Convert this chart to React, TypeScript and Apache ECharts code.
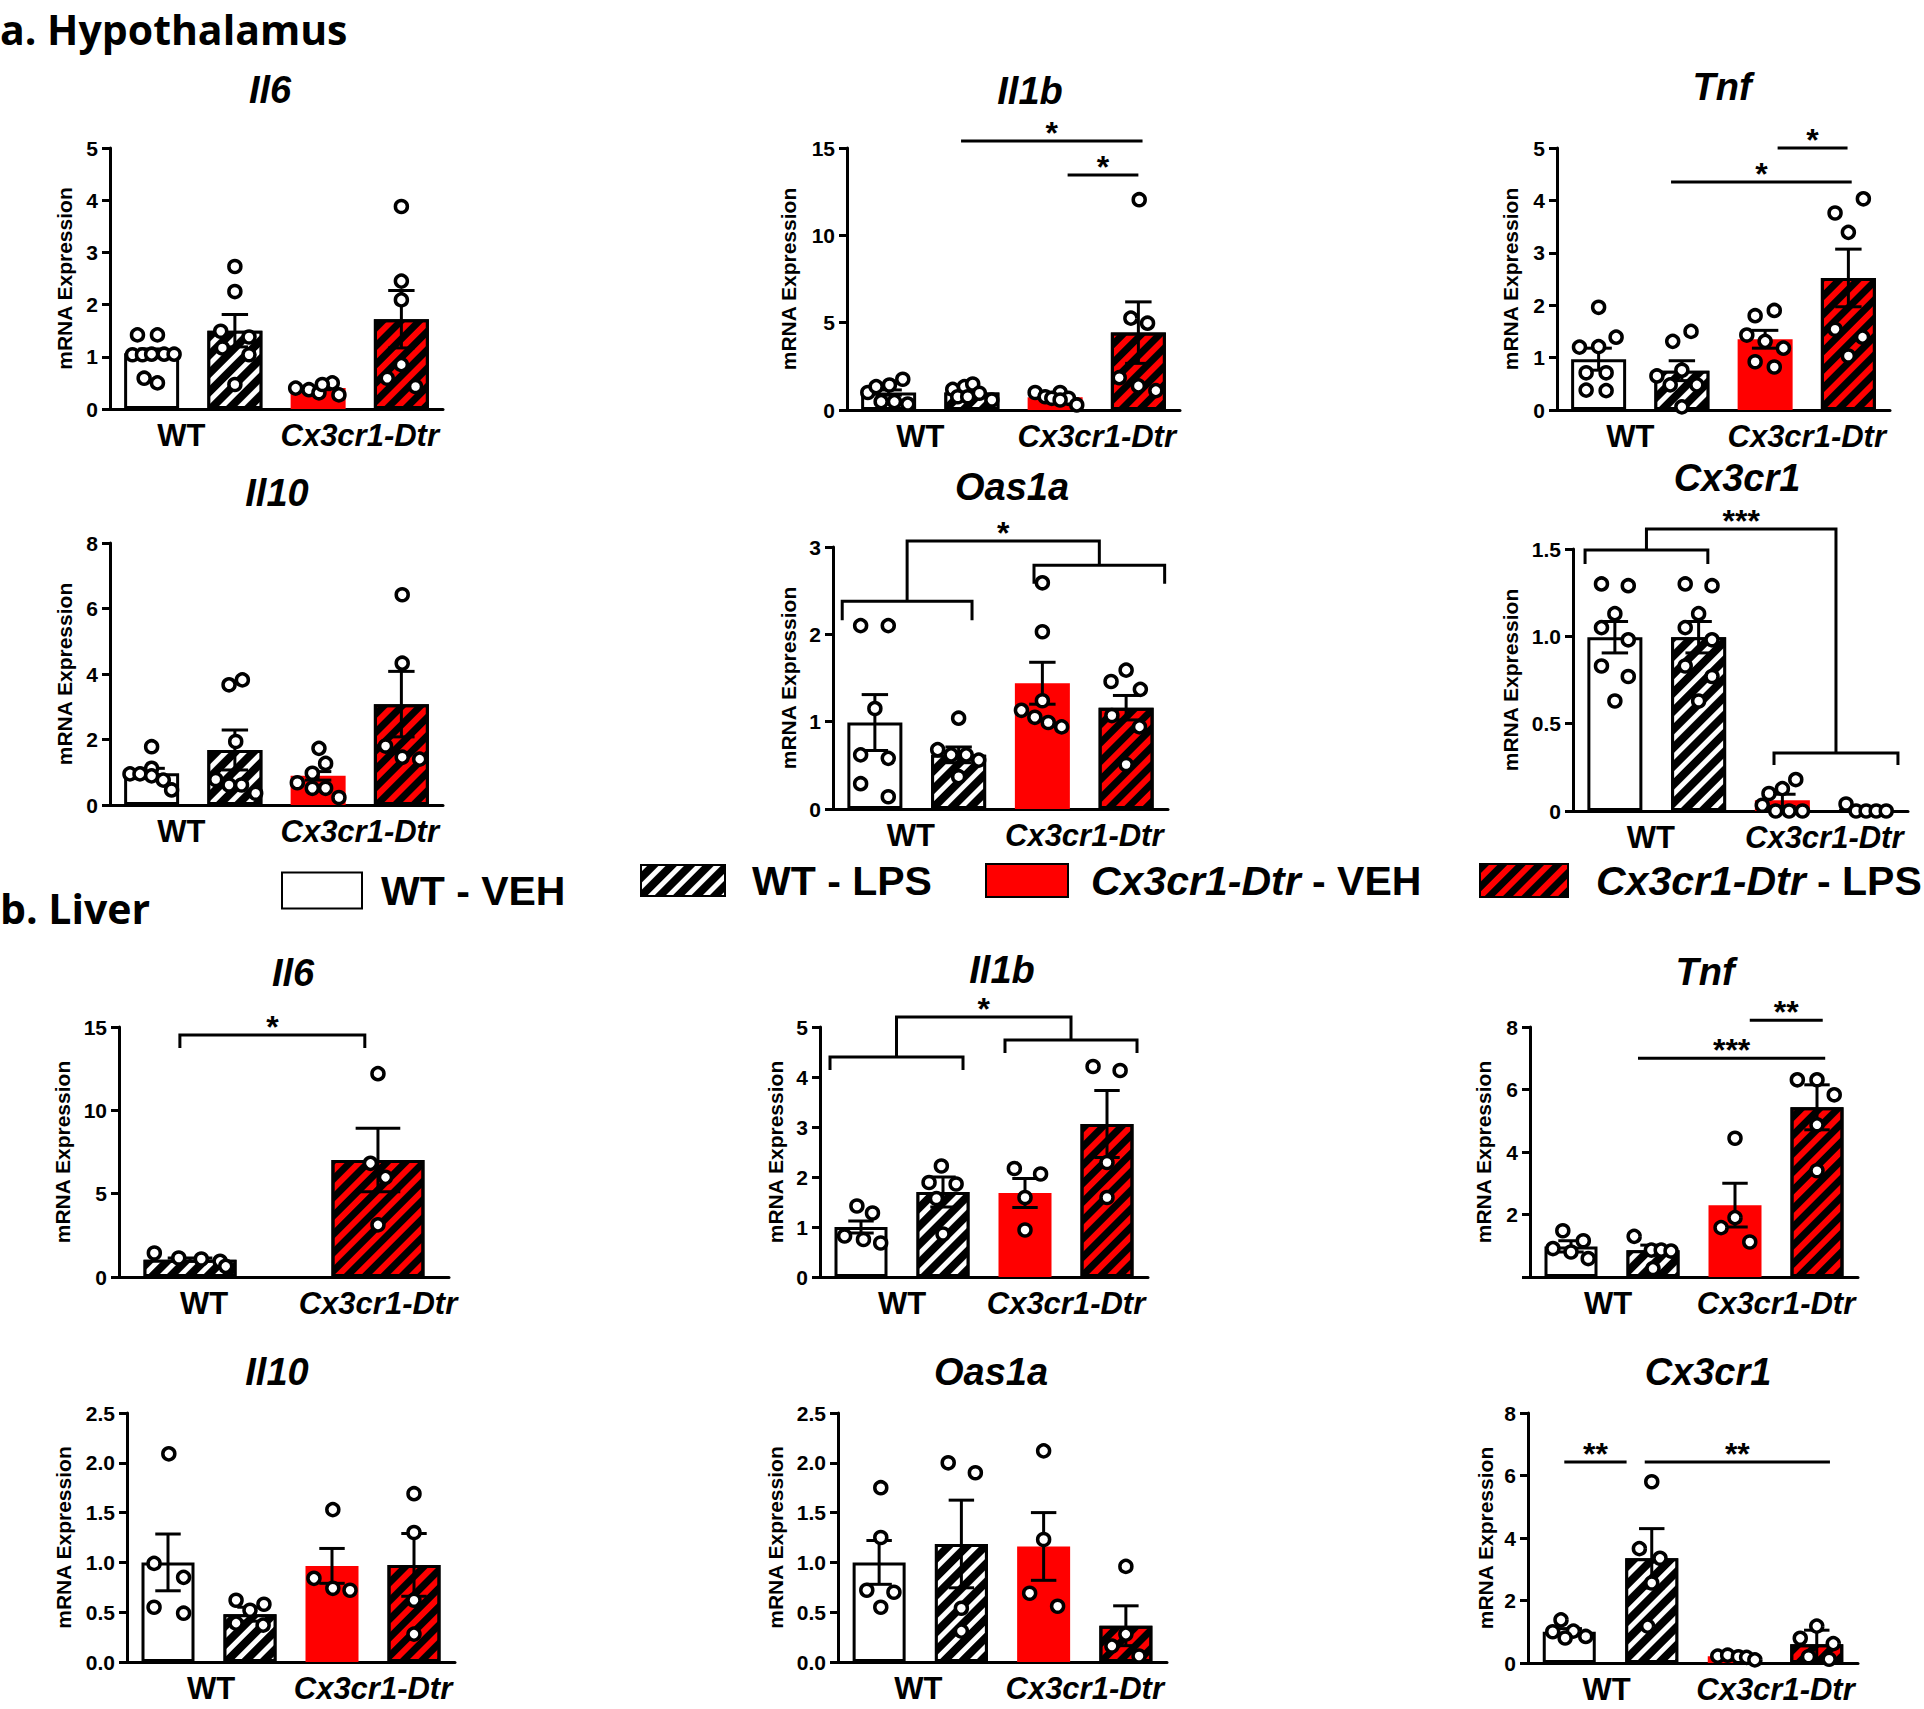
import React, { useEffect, useRef } from 'react';
import * as echarts from 'echarts';

// ---------------- data ----------------
const GROUPS = ['WT - VEH', 'WT - LPS', 'Cx3cr1-Dtr - VEH', 'Cx3cr1-Dtr - LPS'];
const GENOTYPES = ['WT', 'Cx3cr1-Dtr'];
const Y_NAME = 'mRNA Expression';
const SECTIONS = ['a. Hypothalamus', 'b. Liver'];

// a. Hypothalamus — Il6
const hypIl6Mean = [1.07, 1.5, 0.4, 1.72];
const hypIl6Sem = [0.08, 0.31, 0.03, 0.55];
const hypIl6Dots = [
  [[-0.17, 1.42], [0.07, 1.42], [-0.23, 1.04], [-0.11, 1.04], [0, 1.05], [0.15, 1.05], [0.27, 1.05], [-0.09, 0.59], [0.07, 0.5]],
  [[0, 2.73], [0, 2.25], [-0.17, 1.49], [0.17, 1.38], [-0.15, 1.17], [0.17, 1.04], [0, 0.47]],
  [[-0.27, 0.4], [-0.11, 0.37], [0.01, 0.31], [0.17, 0.5], [0.25, 0.27], [0.05, 0.47]],
  [[0, 3.88], [0, 2.45], [0, 2.09], [0, 0.85], [-0.17, 0.59], [0.17, 0.43]],
];
// a. Hypothalamus — Il1b
const hypIl1bMean = [1.0, 1.0, 0.73, 4.43];
const hypIl1bSem = [0.15, 0.12, 0.08, 1.76];
const hypIl1bDots = [
  [[-0.25, 1.0], [-0.15, 1.34], [0.01, 1.43], [0.17, 1.76], [-0.09, 0.48], [0.07, 0.48], [0.23, 0.34]],
  [[-0.23, 1.18], [-0.09, 1.34], [0.01, 1.49], [-0.17, 0.76], [-0.05, 0.76], [0.09, 0.96], [0.24, 0.57]],
  [[-0.24, 1.0], [-0.12, 0.76], [0.06, 1.0], [-0.04, 0.67], [0.16, 0.67], [0.26, 0.29], [0.06, 0.57]],
  [[0.01, 12.04], [-0.09, 5.26], [0.11, 4.97], [-0.23, 1.85], [0, 1.38], [0.21, 1.11]],
];
// a. Hypothalamus — Tnf
const hypTnfMean = [0.97, 0.75, 1.35, 2.52];
const hypTnfSem = [0.21, 0.19, 0.17, 0.55];
const hypTnfDots = [
  [[0, 1.96], [0.21, 1.39], [-0.23, 1.2], [0, 1.21], [-0.15, 0.71], [0.09, 0.71], [-0.15, 0.38], [0.09, 0.37]],
  [[0.11, 1.5], [-0.11, 1.31], [0, 0.76], [-0.3, 0.65], [-0.14, 0.48], [0.18, 0.48], [0, 0.06]],
  [[-0.12, 1.8], [0.11, 1.9], [-0.22, 1.43], [0, 1.31], [0.22, 1.18], [-0.12, 0.92], [0.11, 0.82]],
  [[0.18, 4.03], [-0.16, 3.76], [0, 3.39], [-0.16, 1.54], [0.17, 1.39], [0, 1.03]],
];
// a. Hypothalamus — Il10
const hypIl10Mean = [0.97, 1.68, 0.89, 3.08];
const hypIl10Sem = [0.15, 0.61, 0.13, 1.0];
const hypIl10Dots = [
  [[0, 1.78], [0, 1.12], [-0.26, 0.95], [-0.14, 0.95], [0, 0.89], [0.14, 0.76], [0.24, 0.46]],
  [[-0.07, 3.67], [0.09, 3.82], [0.01, 1.94], [-0.23, 0.78], [-0.07, 0.61], [0.08, 0.61], [0.25, 0.36]],
  [[0.01, 1.73], [0.09, 1.27], [-0.07, 0.97], [-0.25, 0.68], [-0.07, 0.51], [0.09, 0.51], [0.25, 0.23]],
  [[0.01, 6.42], [0.01, 4.33], [-0.19, 1.8], [0.01, 1.46], [0.22, 1.4]],
];
// a. Hypothalamus — Oas1a
const hypOas1aMean = [0.99, 0.62, 1.44, 1.16];
const hypOas1aSem = [0.32, 0.09, 0.24, 0.14];
const hypOas1aDots = [
  [[-0.17, 2.1], [0.16, 2.1], [0, 1.15], [-0.17, 0.62], [0.16, 0.58], [-0.17, 0.29], [0.16, 0.14]],
  [[0, 1.04], [-0.25, 0.68], [-0.09, 0.62], [0.09, 0.62], [0.24, 0.56], [0, 0.37]],
  [[0, 2.59], [0, 2.03], [0, 1.24], [-0.25, 1.13], [-0.09, 1.05], [0.07, 0.99], [0.23, 0.94]],
  [[0, 1.59], [-0.18, 1.46], [0.17, 1.37], [-0.17, 1.07], [0.16, 0.94], [0, 0.51]],
];
// a. Hypothalamus — Cx3cr1
const hypCx3cr1Mean = [0.995, 0.995, 0.061, 0.008];
const hypCx3cr1Sem = [0.09, 0.09, 0.035, 0.008];
const hypCx3cr1Dots = [
  [[-0.16, 1.3], [0.16, 1.29], [0, 1.13], [-0.16, 1.05], [0.16, 0.98], [-0.16, 0.83], [0.16, 0.77], [0, 0.63]],
  [[-0.16, 1.3], [0.16, 1.29], [0, 1.13], [-0.16, 1.05], [0.16, 0.98], [-0.16, 0.83], [0.16, 0.77], [0, 0.63]],
  [[0.16, 0.18], [0, 0.128], [-0.16, 0.1], [-0.24, 0.033], [-0.08, 0], [0.08, 0], [0.24, 0]],
  [[-0.24, 0.04], [-0.12, 0], [0, 0], [0.12, 0], [0.24, 0]],
];

// b. Liver — Il6 (WT - LPS and Cx3cr1-Dtr - LPS only)
const livIl6Mean = [1.04, 7.02];
const livIl6Sem = [0.1, 1.9];
const livIl6Dots = [
  [[-0.19, 1.44], [-0.06, 1.14], [0.06, 1.08], [0.16, 0.94], [0.19, 0.64]],
  [[0, 12.2], [-0.04, 6.82], [0.04, 5.98], [0, 3.13]],
];
// b. Liver — Il1b
const livIl1bMean = [1.0, 1.7, 1.68, 3.06];
const livIl1bSem = [0.12, 0.3, 0.29, 0.67];
const livIl1bDots = [
  [[-0.05, 1.42], [0.14, 1.28], [-0.2, 0.82], [0.03, 0.75], [0.24, 0.68]],
  [[-0.02, 2.22], [-0.17, 1.89], [0.16, 1.86], [-0.08, 1.57], [0, 0.86]],
  [[-0.13, 2.17], [0.19, 2.06], [0, 1.59], [0, 0.94]],
  [[-0.17, 4.21], [0.16, 4.13], [0, 2.29], [0, 1.59]],
];
// b. Liver — Tnf
const livTnfMean = [0.98, 0.86, 2.3, 5.43];
const livTnfSem = [0.18, 0.16, 0.7, 0.72];
const livTnfDots = [
  [[-0.1, 1.48], [-0.22, 0.91], [0, 0.8], [0.15, 1.16], [0.21, 0.59]],
  [[-0.23, 1.3], [-0.02, 0.86], [0.1, 0.86], [0.22, 0.83], [0, 0.27]],
  [[0, 4.44], [0, 1.9], [-0.17, 1.58], [0.18, 1.12]],
  [[-0.24, 6.31], [0, 6.31], [0.21, 5.83], [0, 4.87], [0, 3.4]],
];
// b. Liver — Il10
const livIl10Mean = [1.0, 0.48, 0.965, 0.975];
const livIl10Sem = [0.285, 0.07, 0.175, 0.315];
const livIl10Dots = [
  [[0.01, 2.09], [-0.17, 0.99], [0.19, 0.85], [-0.17, 0.55], [0.19, 0.49]],
  [[-0.17, 0.62], [0.17, 0.58], [0, 0.52], [-0.17, 0.39], [0.16, 0.37]],
  [[0.01, 1.53], [-0.22, 0.84], [0.01, 0.74], [0.22, 0.72]],
  [[0, 1.69], [0, 1.3], [0, 0.62], [0, 0.28]],
];
// b. Liver — Oas1a
const livOas1aMean = [1.0, 1.185, 1.16, 0.364];
const livOas1aSem = [0.22, 0.44, 0.34, 0.2];
const livOas1aDots = [
  [[0.02, 1.75], [0.02, 1.25], [-0.15, 0.72], [0.18, 0.7], [0.02, 0.55]],
  [[-0.16, 2.0], [0.17, 1.9], [0, 0.54], [0, 0.31]],
  [[0, 2.12], [0, 1.23], [-0.17, 0.69], [0.17, 0.56]],
  [[0, 0.96], [0, 0.28], [-0.17, 0.16], [0.16, 0.06]],
];
// b. Liver — Cx3cr1
const livCx3cr1Mean = [1.0, 3.35, 0.22, 0.6];
const livCx3cr1Sem = [0.1, 0.95, 0.03, 0.45];
const livCx3cr1Dots = [
  [[-0.1, 1.38], [-0.2, 1.0], [0.05, 1.02], [0.2, 0.85], [-0.05, 0.8]],
  [[0, 5.8], [-0.15, 3.66], [0.1, 3.35], [0, 2.56], [-0.05, 1.18]],
  [[-0.2, 0.22], [-0.08, 0.25], [0.05, 0.2], [0.15, 0.18], [0.25, 0.1]],
  [[0, 1.18], [-0.2, 0.79], [0.2, 0.62], [-0.1, 0.2], [0.15, 0.12]],
];

// significance annotations (data units)
const hypIl1bSig = [
  { kind: 'line', x1: 0.87, x2: 3.05, y: 15.4, label: '*' },
  { kind: 'line', x1: 2.15, x2: 3.0, y: 13.45, label: '*' },
];
const hypTnfSig = [
  { kind: 'line', x1: 2.15, x2: 2.99, y: 5.0, label: '*' },
  { kind: 'line', x1: 0.87, x2: 3.04, y: 4.35, label: '*' },
];
const hypOas1aSig = [
  { kind: 'nested', a: [-0.39, 1.16, 2.38, 2.16], b: [1.9, 3.46, 2.79, 2.58], top: 3.07, label: '*' },
];
const hypCx3cr1Sig = [
  { kind: 'nested', a: [-0.356, 1.11, 1.494, 1.414], b: [1.9, 3.38, 0.332, 0.263], top: 1.614, label: '***' },
];
const livIl6Sig = [{ kind: 'bracket', x1: -0.054, x2: 0.93, y: 14.52, y0: 13.74, label: '*' }];
const livIl1bSig = [
  { kind: 'nested', a: [-0.378, 1.244, 4.4, 4.14], b: [1.756, 3.366, 4.74, 4.48], top: 5.2, label: '*' },
];
const livTnfSig = [
  { kind: 'line', x1: 2.18, x2: 3.07, y: 8.22, label: '**' },
  { kind: 'line', x1: 0.817, x2: 3.1, y: 7.0, label: '***' },
];
const livCx3cr1Sig = [
  { kind: 'line', x1: -0.06, x2: 0.695, y: 6.43, label: '**' },
  { kind: 'line', x1: 0.915, x2: 3.16, y: 6.43, label: '**' },
];

const ALL4 = [0, 1, 2, 3];
const PANELS = [
  { title: 'Il6', groups: ALL4, mean: hypIl6Mean, sem: hypIl6Sem, dots: hypIl6Dots, sig: [], yMax: 5, yStep: 1, fmt: 'int' },
  { title: 'Il1b', groups: ALL4, mean: hypIl1bMean, sem: hypIl1bSem, dots: hypIl1bDots, sig: hypIl1bSig, yMax: 15, yStep: 5, fmt: 'int' },
  { title: 'Tnf', groups: ALL4, mean: hypTnfMean, sem: hypTnfSem, dots: hypTnfDots, sig: hypTnfSig, yMax: 5, yStep: 1, fmt: 'int' },
  { title: 'Il10', groups: ALL4, mean: hypIl10Mean, sem: hypIl10Sem, dots: hypIl10Dots, sig: [], yMax: 8, yStep: 2, fmt: 'int' },
  { title: 'Oas1a', groups: ALL4, mean: hypOas1aMean, sem: hypOas1aSem, dots: hypOas1aDots, sig: hypOas1aSig, yMax: 3, yStep: 1, fmt: 'int' },
  { title: 'Cx3cr1', groups: ALL4, mean: hypCx3cr1Mean, sem: hypCx3cr1Sem, dots: hypCx3cr1Dots, sig: hypCx3cr1Sig, yMax: 1.5, yStep: 0.5, fmt: 'dec0' },
  { title: 'Il6', groups: [1, 3], mean: livIl6Mean, sem: livIl6Sem, dots: livIl6Dots, sig: livIl6Sig, yMax: 15, yStep: 5, fmt: 'int' },
  { title: 'Il1b', groups: ALL4, mean: livIl1bMean, sem: livIl1bSem, dots: livIl1bDots, sig: livIl1bSig, yMax: 5, yStep: 1, fmt: 'int' },
  { title: 'Tnf', groups: ALL4, mean: livTnfMean, sem: livTnfSem, dots: livTnfDots, sig: livTnfSig, yMax: 8, yStep: 2, fmt: 'noZero' },
  { title: 'Il10', groups: ALL4, mean: livIl10Mean, sem: livIl10Sem, dots: livIl10Dots, sig: [], yMax: 2.5, yStep: 0.5, fmt: 'dec' },
  { title: 'Oas1a', groups: ALL4, mean: livOas1aMean, sem: livOas1aSem, dots: livOas1aDots, sig: [], yMax: 2.5, yStep: 0.5, fmt: 'dec' },
  { title: 'Cx3cr1', groups: ALL4, mean: livCx3cr1Mean, sem: livCx3cr1Sem, dots: livCx3cr1Dots, sig: livCx3cr1Sig, yMax: 8, yStep: 2, fmt: 'int' },
];

// ---------------- layout & style ----------------
const FONT = '"Liberation Sans", Arial, sans-serif';
const HEAD_FONT = '"Open Sans", "Liberation Sans", sans-serif';
const RED = '#ff0000';
const LAYOUT = [
  { left: 110, top: 148, width: 333, height: 261, title: [270, 90], nameGap: 36, wtShift: 12 },
  { left: 847, top: 148, width: 333, height: 262, title: [1030, 91], nameGap: 49, wtShift: 10 },
  { left: 1557, top: 148, width: 333, height: 262, title: [1722, 87], nameGap: 37, wtShift: 10 },
  { left: 110, top: 543, width: 333, height: 262, title: [277, 493], nameGap: 36, wtShift: 12 },
  { left: 833, top: 547, width: 335, height: 262, title: [1012, 487], nameGap: 35, wtShift: 6 },
  { left: 1573, top: 549, width: 335, height: 262, title: [1737, 478], nameGap: 53, wtShift: 6 },
  { left: 119, top: 1027, width: 330, height: 250, title: [293, 973], nameGap: 47, xMin: -0.378, xMax: 1.378, barWidth: 93, wtShift: -14 },
  { left: 820, top: 1027, width: 328, height: 250, title: [1002, 970], nameGap: 35, wtShift: 0 },
  { left: 1530, top: 1027, width: 328, height: 250, title: [1705, 972], nameGap: 37, wtShift: 4 },
  { left: 127, top: 1413, width: 328, height: 249, title: [277, 1372], nameGap: 54, wtShift: -2 },
  { left: 838, top: 1413, width: 329, height: 249, title: [991, 1372], nameGap: 53, wtShift: 2 },
  { left: 1528, top: 1413, width: 330, height: 250, title: [1708, 1372], nameGap: 33, wtShift: 4 },
];
const SECTION_POS = [[0, 29], [0, 908]];
const LEGEND_POS = [
  { left: 281, cy: 890, w: 80, h: 36, gap: 19 },
  { left: 640, cy: 880, w: 84, h: 31, gap: 27 },
  { left: 985, cy: 880, w: 82, h: 33, gap: 23 },
  { left: 1479, cy: 880, w: 88, h: 33, gap: 28 },
];

const hatch = (color: string, dash: number[]) => ({
  symbol: 'rect',
  symbolSize: 1,
  color,
  dashArrayX: [1, 0],
  dashArrayY: dash,
  rotation: -Math.PI / 4,
});
const GROUP_STYLE: any[] = [
  { color: '#fff', borderColor: '#000', borderWidth: 3 },
  { color: '#000', borderColor: '#000', borderWidth: 3, decal: hatch('#fff', [5, 8]) },
  { color: RED, borderWidth: 0 },
  { color: RED, borderColor: '#000', borderWidth: 3, decal: hatch('#000', [7, 6]) },
];

const fmtTick = (kind: string) => (v: number) => {
  if (kind === 'dec') return v.toFixed(1);
  if (kind === 'dec0') return v === 0 ? '0' : v.toFixed(1);
  if (kind === 'noZero') return v === 0 ? '' : String(v);
  return String(v);
};

const LW = 3;
const lineStyle = { stroke: '#000', lineWidth: LW, fill: null };
const starEl = (x: number, y: number, label: string) => ({
  type: 'text',
  x,
  y: y - 8,
  style: {
    text: label,
    fill: '#000',
    fontSize: 32,
    lineHeight: 20,
    fontWeight: 'bold',
    fontFamily: FONT,
    textAlign: 'center',
    textVerticalAlign: 'middle',
  },
});

function buildOption() {
  const grid: any[] = [];
  const xAxis: any[] = [];
  const yAxis: any[] = [];
  const series: any[] = [];
  const graphic: any[] = [];

  PANELS.forEach((p, k) => {
    const L: any = LAYOUT[k];
    const xMin = L.xMin ?? -0.5;
    const xMax = L.xMax ?? 3.5;
    const barWidth = L.barWidth ?? (k < 6 ? 55 : 53);
    const capHalf = barWidth * 0.24;
    const pos = p.groups.map((_, i) => i);
    const wtIdx = pos.filter((i) => p.groups[i] < 2);
    const cxIdx = pos.filter((i) => p.groups[i] >= 2);
    const wtPos = wtIdx.reduce((s, i) => s + i, 0) / wtIdx.length;
    const cxPos = cxIdx.reduce((s, i) => s + i, 0) / cxIdx.length;
    const sh = L.wtShift || 0;

    grid.push({ left: L.left, top: L.top, width: L.width, height: L.height, containLabel: false });
    xAxis.push({
      type: 'value',
      gridIndex: k,
      min: xMin,
      max: xMax,
      splitLine: { show: false },
      axisTick: { show: false },
      axisLine: { show: true, onZero: false, lineStyle: { color: '#000', width: LW } },
      axisLabel: {
        show: true,
        customValues: [wtPos, cxPos],
        margin: 11,
        formatter: (v: number) => (Math.abs(v - wtPos) < 1e-6 ? `{wt|${GENOTYPES[0]}}` : `{cx|${GENOTYPES[1]}}`),
        rich: {
          wt: {
            fontSize: 31,
            fontWeight: 'bold',
            fontFamily: FONT,
            color: '#000',
            padding: sh >= 0 ? [0, 2 * sh, 0, 0] : [0, 0, 0, -2 * sh],
          },
          cx: { fontSize: 31, fontWeight: 'bold', fontStyle: 'italic', fontFamily: FONT, color: '#000' },
        },
      },
    });
    yAxis.push({
      type: 'value',
      gridIndex: k,
      min: 0,
      max: p.yMax,
      interval: p.yStep,
      name: Y_NAME,
      nameLocation: 'middle',
      nameGap: L.nameGap - 1,
      nameRotate: 90,
      nameTextStyle: { fontSize: 21, fontWeight: 'bold', fontFamily: FONT, color: '#000' },
      splitLine: { show: false },
      axisLine: { show: true, onZero: false, lineStyle: { color: '#000', width: LW } },
      axisTick: { show: true, length: 8, lineStyle: { color: '#000', width: LW } },
      axisLabel: {
        fontSize: 21,
        fontWeight: 'bold',
        fontFamily: FONT,
        color: '#000',
        margin: 12,
        formatter: fmtTick(p.fmt),
      },
    });

    p.groups.forEach((g, i) => {
      series.push({
        type: 'bar',
        name: GROUPS[g],
        xAxisIndex: k,
        yAxisIndex: k,
        barWidth,
        barGap: '-100%',
        data: [[pos[i], p.mean[i]]],
        itemStyle: GROUP_STYLE[g],
        silent: true,
        z: 2,
      });
    });

    series.push({
      type: 'custom',
      xAxisIndex: k,
      yAxisIndex: k,
      z: 3,
      clip: false,
      silent: true,
      data: p.mean.map((m, i) => [pos[i], m, p.sem[i]]),
      renderItem: (params: any, api: any) => {
        const x = api.value(0);
        const m = api.value(1);
        const s = api.value(2);
        const hi = api.coord([x, m + s]);
        const lo = api.coord([x, Math.max(0, m - s)]);
        return {
          type: 'group',
          children: [
            { type: 'line', shape: { x1: hi[0], y1: hi[1], x2: lo[0], y2: lo[1] }, style: lineStyle },
            { type: 'line', shape: { x1: hi[0] - capHalf, y1: hi[1], x2: hi[0] + capHalf, y2: hi[1] }, style: lineStyle },
            { type: 'line', shape: { x1: lo[0] - capHalf, y1: lo[1], x2: lo[0] + capHalf, y2: lo[1] }, style: lineStyle },
          ],
        };
      },
    });

    series.push({
      type: 'scatter',
      xAxisIndex: k,
      yAxisIndex: k,
      z: 4,
      silent: true,
      symbol: 'circle',
      symbolSize: 12,
      itemStyle: { color: '#fff', borderColor: '#000', borderWidth: 3.5, opacity: 1 },
      data: p.dots.flatMap((arr, i) => arr.map(([dx, y]) => [pos[i] + dx, y])),
    });

    if (p.sig.length) {
      const sig: any[] = p.sig;
      series.push({
        type: 'custom',
        xAxisIndex: k,
        yAxisIndex: k,
        z: 4,
        clip: false,
        silent: true,
        data: sig.map(() => [0, 0]),
        renderItem: (params: any, api: any) => {
          const s = sig[params.dataIndex];
          const c = (x: number, y: number) => api.coord([x, y]);
          if (s.kind === 'line') {
            const a = c(s.x1, s.y);
            const b = c(s.x2, s.y);
            return {
              type: 'group',
              children: [
                { type: 'line', shape: { x1: a[0], y1: a[1], x2: b[0], y2: b[1] }, style: lineStyle },
                starEl((a[0] + b[0]) / 2, a[1], s.label),
              ],
            };
          }
          if (s.kind === 'bracket') {
            const pts = [c(s.x1, s.y0), c(s.x1, s.y), c(s.x2, s.y), c(s.x2, s.y0)];
            return {
              type: 'group',
              children: [
                { type: 'polyline', shape: { points: pts }, style: lineStyle },
                starEl((pts[1][0] + pts[2][0]) / 2, pts[1][1], s.label),
              ],
            };
          }
          const [ax1, ax2, ay, ay0] = s.a;
          const [bx1, bx2, by, by0] = s.b;
          const am = (ax1 + ax2) / 2;
          const bm = (bx1 + bx2) / 2;
          const left = [c(ax1, ay0), c(ax1, ay), c(ax2, ay), c(ax2, ay0)];
          const right = [c(bx1, by0), c(bx1, by), c(bx2, by), c(bx2, by0)];
          const conn = [c(am, ay), c(am, s.top), c(bm, s.top), c(bm, by)];
          return {
            type: 'group',
            children: [
              { type: 'polyline', shape: { points: left }, style: lineStyle },
              { type: 'polyline', shape: { points: right }, style: lineStyle },
              { type: 'polyline', shape: { points: conn }, style: lineStyle },
              starEl((conn[1][0] + conn[2][0]) / 2, conn[1][1], s.label),
            ],
          };
        },
      });
    }

    graphic.push({
      type: 'text',
      x: L.title[0],
      y: L.title[1],
      silent: true,
      style: {
        text: p.title,
        fill: '#000',
        fontSize: 38,
        lineHeight: 32,
        fontWeight: 'bold',
        fontStyle: 'italic',
        fontFamily: FONT,
        textAlign: 'center',
        textVerticalAlign: 'middle',
      },
    });
  });

  SECTIONS.forEach((t, i) => {
    graphic.push({
      type: 'text',
      x: SECTION_POS[i][0],
      y: SECTION_POS[i][1],
      silent: true,
      style: {
        text: t,
        fill: '#000',
        fontSize: 41,
        lineHeight: 42,
        fontWeight: 'bold',
        fontFamily: HEAD_FONT,
        textAlign: 'left',
        textVerticalAlign: 'middle',
      },
    });
  });

  const legend = GROUPS.map((name, i) => {
    const P = LEGEND_POS[i];
    return {
      data: [name],
      left: P.left,
      top: P.cy - 20,
      padding: 0,
      icon: 'rect',
      itemWidth: P.w,
      itemHeight: P.h,
      selectedMode: false,
      itemStyle: { borderColor: '#000', borderWidth: 2 },
      formatter: (n: string) =>
        n.startsWith('Cx3cr1-Dtr') ? `{i|Cx3cr1-Dtr}{n|${n.slice(10)}}` : `{n|${n}}`,
      textStyle: {
        padding: [0, 0, 0, P.gap - 5],
        rich: {
          i: { fontSize: 41, fontWeight: 'bold', fontStyle: 'italic', fontFamily: FONT, color: '#000', lineHeight: 40 },
          n: { fontSize: 41, fontWeight: 'bold', fontFamily: FONT, color: '#000', lineHeight: 40 },
        },
      },
    };
  });

  return {
    animation: false,
    backgroundColor: '#fff',
    grid,
    xAxis,
    yAxis,
    series,
    legend,
    graphic,
  };
}

export default function App() {
  const ref = useRef<HTMLDivElement>(null);
  useEffect(() => {
    if (!ref.current) return;
    const chart = echarts.init(ref.current, null, { renderer: 'svg' });
    chart.setOption(buildOption() as any);
    return () => chart.dispose();
  }, []);
  return (
    <div
      ref={ref}
      style={{ position: 'fixed', left: 0, top: 0, width: 1924, height: 1709, background: '#fff' }}
    />
  );
}
